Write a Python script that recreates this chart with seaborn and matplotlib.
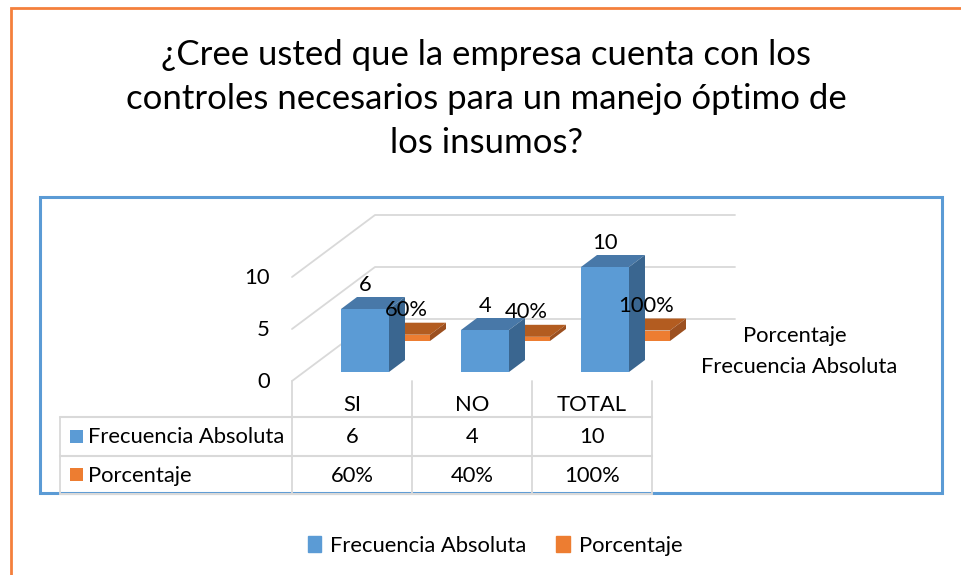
import matplotlib
matplotlib.use("Agg")
import matplotlib.pyplot as plt
from matplotlib.patches import Patch, Polygon, Rectangle
import pandas as pd
import seaborn as sns

titulo = "¿Cree usted que la empresa cuenta con los\ncontroles necesarios para un manejo óptimo de\nlos insumos?"
categorias = ["SI", "NO", "TOTAL"]
frecuencia = [6, 4, 10]
porcentaje = [0.6, 0.4, 1.0]
porcentaje_txt = ["60%", "40%", "100%"]
y_ticks = [0, 5, 10]

AZUL = "#5B9BD5"
NARANJA = "#ED7D31"
GRIS = "#D9D9D9"
W, H = 961, 575
FS = 15.8

sns.set_theme(style="white")
plt.rcParams["font.family"] = ["Lato", "DejaVu Sans"]

df = pd.DataFrame({"cat": categorias, "frec": frecuencia, "pct": porcentaje})

fig = plt.figure(figsize=(W / 100, H / 100), dpi=100)


def ejes_px(x0, y_top, x1, y_bot, z):
    a = fig.add_axes([x0 / W, 1 - y_bot / H, (x1 - x0) / W, (y_bot - y_top) / H], zorder=z)
    a.patch.set_alpha(0)
    a.axis("off")
    return a


# capa de fondo en pixeles: marcos, pared y tabla
bg = ejes_px(0, 0, W, H, 0)
bg.set_xlim(0, W)
bg.set_ylim(H, 0)
bg.plot([11, 11, W], [H, 8, 8], color="#F4803C", lw=2, solid_joinstyle="miter")
bg.add_patch(Rectangle((40, 197), 902, 296, fill=False, ec=AZUL, lw=2.2))

for v in y_ticks:
    y0 = 381 - v * 10.4
    bg.plot([292, 375, 735], [y0, y0 - 62, y0 - 62], color=GRIS, lw=1.3)
    bg.text(270, y0 + 1, str(v), ha="right", va="center", fontsize=FS, color="black")

# tabla de datos
col_x = [292, 412, 532, 652]
for x in col_x:
    bg.plot([x, x], [381, 494], color=GRIS, lw=1.3)
bg.plot([60, 60], [417, 494], color=GRIS, lw=1.3)
for y in [417, 456, 494]:
    bg.plot([60, 652], [y, y], color=GRIS, lw=1.5)
bg.add_patch(Rectangle((70, 430), 13, 13, fc=AZUL, ec="none"))
bg.add_patch(Rectangle((70, 468), 13, 13, fc=NARANJA, ec="none"))
bg.text(88, 437, "Frecuencia Absoluta", va="center", fontsize=FS, color="black")
bg.text(88, 476, "Porcentaje", va="center", fontsize=FS, color="black")
for i, c in enumerate(categorias):
    xc = (col_x[i] + col_x[i + 1]) / 2
    bg.text(xc, 405, c, ha="center", va="center", fontsize=FS, color="black")
    bg.text(xc, 437, str(frecuencia[i]), ha="center", va="center", fontsize=FS, color="black")
    bg.text(xc, 476, porcentaje_txt[i], ha="center", va="center", fontsize=FS, color="black")

bg.text(795, 336, "Porcentaje", ha="center", va="center", fontsize=FS, color="black")
bg.text(799, 367, "Frecuencia Absoluta", ha="center", va="center", fontsize=FS, color="black")
bg.text(486, 99, titulo, ha="center", va="center", fontsize=25, color="black", linespacing=1.47)

# 120 px por categoria y 10.5 px por unidad; el eje de la serie de atras va corrido
PX_X, PX_Y = 120, 10.5
DX, DY = 16 / PX_X, 12 / PX_Y
x_izq, x_der = 292, 735
y_arr, y_abj = 214, 372


def ejes_serie(corr_x, corr_y, z):
    a = ejes_px(x_izq + corr_x, y_arr + corr_y, x_der + corr_x, y_abj + corr_y, z)
    return a


def caja_3d(a, c_sup, c_lado):
    # caras superior y lateral a partir de las barras que dibujo seaborn
    for p in list(a.patches):
        x, w, h = p.get_x(), p.get_width(), p.get_height()
        a.add_patch(Polygon([(x, h), (x + w, h), (x + w + DX, h + DY), (x + DX, h + DY)],
                            fc=c_sup, ec="none", clip_on=False))
        a.add_patch(Polygon([(x + w, 0), (x + w + DX, DY), (x + w + DX, h + DY), (x + w, h)],
                            fc=c_lado, ec="none", clip_on=False))


def limites(a):
    a.set_xlim((x_izq - 365) / PX_X, (x_der - 365) / PX_X)
    a.set_ylim(0, (y_abj - y_arr) / PX_Y)
    a.axis("off")


ax_n = ejes_serie(41, -31, 1)
sns.barplot(data=df, x="cat", y="pct", color=NARANJA, saturation=1, width=0.4, linewidth=0, ax=ax_n)
caja_3d(ax_n, "#B35C20", "#9C5020")
limites(ax_n)

ax_a = ejes_serie(0, 0, 2)
sns.barplot(data=df, x="cat", y="frec", color=AZUL, saturation=1, width=0.4, linewidth=0, ax=ax_a)
caja_3d(ax_a, "#4878A8", "#3A6690")
limites(ax_a)

# etiquetas de valor, siempre encima de las dos series
for i in range(len(categorias)):
    ax_a.annotate(str(frecuencia[i]), (i, frecuencia[i]), xytext=(0, 17.5), textcoords="offset points",
                  ha="center", va="center", fontsize=FS, color="black", annotation_clip=False)
    ax_a.annotate(porcentaje_txt[i], (i, porcentaje[i]), xycoords=ax_n.transData, xytext=(0, 17.5),
                  textcoords="offset points", ha="center", va="center", fontsize=FS, color="black",
                  annotation_clip=False)

fig.legend(handles=[Patch(color=AZUL, label="Frecuencia Absoluta"), Patch(color=NARANJA, label="Porcentaje")],
           loc="center", bbox_to_anchor=(495 / W, 1 - 545.5 / H), ncols=2, frameon=False, fontsize=FS,
           handlelength=0.62, handleheight=0.72, handletextpad=0.4, columnspacing=1.35, labelcolor="black")

fig.savefig("out.png", dpi=100)
